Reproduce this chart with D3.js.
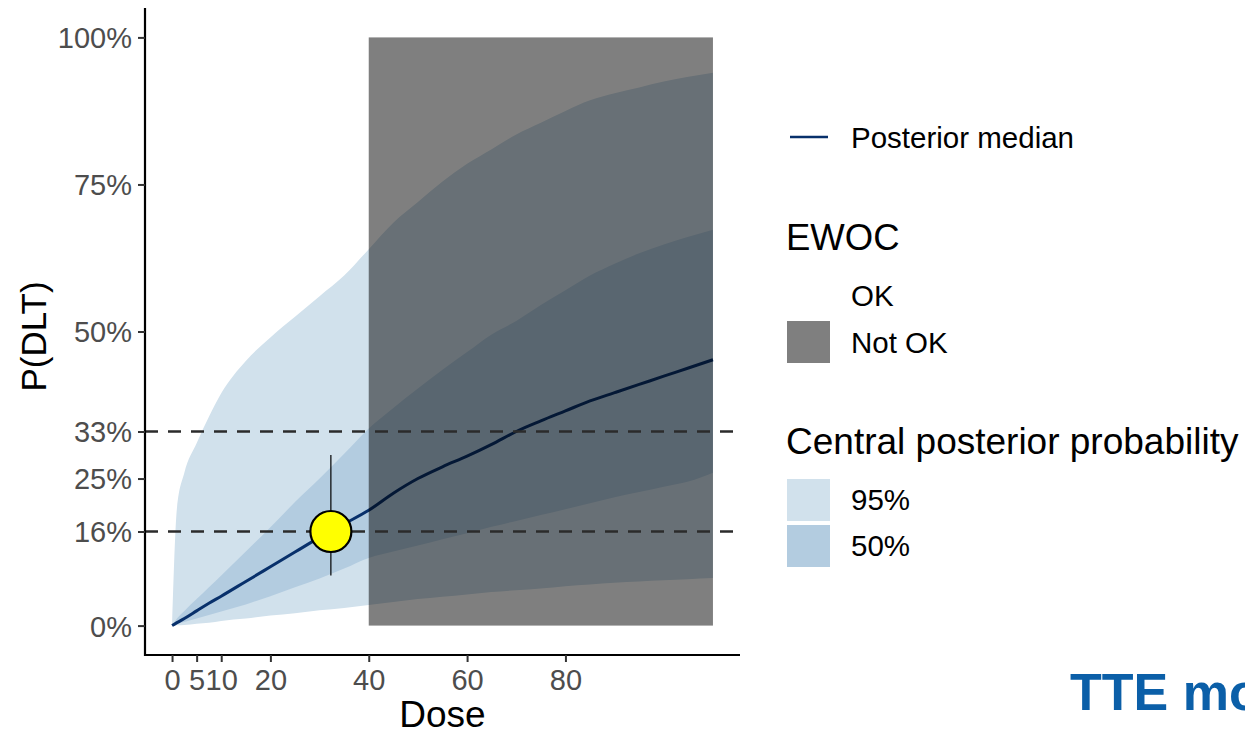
<!DOCTYPE html>
<html>
<head>
<meta charset="utf-8">
<script src="https://cdn.jsdelivr.net/npm/d3@7"></script>
<style>
  body { margin: 0; background: #fff; overflow: hidden; }
  text { font-family: "Liberation Sans", Arial, sans-serif; }
</style>
</head>
<body>
<div id="graph"></div>
<script>
// dose grid and posterior summaries
var doses    = [0, 1, 2.5, 5, 7.5, 10, 15, 20, 25, 30, 35, 40, 45, 50, 55, 60, 65, 70, 75, 80, 85, 90, 95, 100, 105, 110];
var median   = [0, 0.5, 1.2, 2.5, 3.8, 5.0, 7.5, 10, 12.5, 15, 17.3, 19.6, 22.5, 25, 27, 28.8, 30.8, 33, 34.8, 36.5, 38.2, 39.6, 41, 42.4, 43.8, 45.2];
var lower95  = [0, 0.05, 0.1, 0.3, 0.5, 0.8, 1.2, 1.7, 2.1, 2.6, 3.0, 3.5, 4.0, 4.5, 4.9, 5.3, 5.7, 6.0, 6.3, 6.7, 7.0, 7.3, 7.5, 7.7, 7.9, 8.1];
var upper95  = [0, 20, 26, 31, 35.5, 39.5, 45, 49, 52.5, 56, 59.5, 64, 68.5, 72, 75.5, 78.5, 81, 83.5, 85.5, 87.5, 89.3, 90.5, 91.5, 92.5, 93.3, 94];
var lower50  = [0, 0.3, 0.6, 1.2, 1.8, 2.4, 3.6, 5, 6.5, 8, 9.7, 11.5, 12.6, 13.6, 14.7, 15.7, 16.8, 17.8, 18.8, 19.8, 20.8, 21.8, 22.7, 23.6, 24.5, 26];
var upper50  = [0, 1.2, 2.5, 4.5, 6.5, 8.5, 12.6, 16.7, 21, 25, 29.2, 33.5, 37, 40.3, 43.5, 46.5, 49.5, 51.8, 54.5, 57, 59.5, 61.5, 63.3, 64.8, 66.1, 67.3];

var ewocStart = 40, ewocEnd = 110;          // "Not OK" dose range
var refLines = [0.16, 0.33];                 // dashed reference lines
var obsDose = 32.3, obsP = 0.16, obsLo = 0.085, obsHi = 0.29;   // yellow point with its interval

var xTicks = [0, 5, 10, 20, 40, 60, 80];
var yTicks = [0, 0.16, 0.25, 0.33, 0.5, 0.75, 1];

var width = 1245, height = 733;
var margin = {"left": 145, "right": 740, "top": 8, "bottom": 655};

var svg = d3.select("#graph").append("svg")
    .attr("width", width)
    .attr("height", height);

var x = d3.scaleLinear().domain([-5.5, 115.5]).range([margin.left, margin.right]);
var y = d3.scaleLinear().domain([-0.05, 1.05]).range([margin.bottom, margin.top]);

var rows = doses.map(function(d, i) {
  return {dose: d, med: median[i] / 100, lo95: lower95[i] / 100, hi95: upper95[i] / 100,
          lo50: lower50[i] / 100, hi50: upper50[i] / 100};
});

function band(lo, hi) {
  return d3.area()
    .curve(d3.curveMonotoneX)
    .x(function(d) { return x(d.dose); })
    .y0(function(d) { return y(d[lo]); })
    .y1(function(d) { return y(d[hi]); });
}

svg.append("path").datum(rows).attr("d", band("lo95", "hi95")).attr("fill", "#d1e1ec");
svg.append("path").datum(rows).attr("d", band("lo50", "hi50")).attr("fill", "#b3cce0");

svg.append("path").datum(rows)
    .attr("d", d3.line().curve(d3.curveMonotoneX).x(function(d) { return x(d.dose); }).y(function(d) { return y(d.med); }))
    .attr("fill", "none")
    .attr("stroke", "#08306b")
    .attr("stroke-width", 3);

// EWOC not OK region, drawn over the bands
svg.append("rect")
    .attr("x", x(ewocStart))
    .attr("y", y(1))
    .attr("width", x(ewocEnd) - x(ewocStart))
    .attr("height", y(0) - y(1))
    .attr("fill", "#000")
    .attr("fill-opacity", 0.5);

svg.selectAll(".ref")
    .data(refLines)
  .enter().append("line")
    .attr("class", "ref")
    .attr("x1", margin.left).attr("x2", margin.right)
    .attr("y1", function(d) { return y(d); })
    .attr("y2", function(d) { return y(d); })
    .attr("stroke", "#2b2b2b")
    .attr("stroke-width", 2.6)
    .attr("stroke-dasharray", "13,10");

svg.append("line")
    .attr("x1", x(obsDose)).attr("x2", x(obsDose))
    .attr("y1", y(obsLo)).attr("y2", y(obsHi))
    .attr("stroke", "#000")
    .attr("stroke-width", 1.2);

svg.append("circle")
    .attr("cx", x(obsDose))
    .attr("cy", y(obsP))
    .attr("r", 20.5)
    .attr("fill", "#ffff00")
    .attr("stroke", "#000")
    .attr("stroke-width", 2.2);

// axes
var yAxis = svg.append("g")
    .attr("transform", "translate(" + margin.left + ",0)")
    .call(d3.axisLeft(y).tickValues(yTicks).tickFormat(d3.format(".0%")).tickSize(7).tickSizeOuter(0).tickPadding(6));
var xAxis = svg.append("g")
    .attr("transform", "translate(0," + margin.bottom + ")")
    .call(d3.axisBottom(x).tickValues(xTicks).tickSize(7).tickSizeOuter(0).tickPadding(4));

[yAxis, xAxis].forEach(function(a) {
  a.select(".domain").attr("stroke", "#000").attr("stroke-width", 2.2);
  a.selectAll(".tick line").attr("stroke", "#333").attr("stroke-width", 2);
  a.selectAll(".tick text").attr("fill", "#4d4d4d").style("font-size", "29px");
});
yAxis.select(".domain").attr("d", "M0," + margin.top + "V" + (margin.bottom + 1));
xAxis.select(".domain").attr("d", "M" + (margin.left - 1) + ",0H" + margin.right);
yAxis.selectAll(".tick text").attr("dy", "0.36em");
xAxis.selectAll(".tick text").attr("dy", "0.82em");

svg.append("text")
    .attr("x", (margin.left + margin.right) / 2)
    .attr("y", 727)
    .attr("text-anchor", "middle")
    .style("font-size", "37px")
    .text("Dose");

svg.append("text")
    .attr("transform", "translate(46," + ((margin.top + margin.bottom) / 2 + 5) + ") rotate(-90)")
    .attr("text-anchor", "middle")
    .style("font-size", "35px")
    .text("P(DLT)");

// legend
var legend = svg.append("g");
legend.append("line")
    .attr("x1", 790).attr("x2", 828).attr("y1", 137).attr("y2", 137)
    .attr("stroke", "#08306b").attr("stroke-width", 2.5);
legend.append("text").attr("x", 851).attr("y", 148).style("font-size", "29.5px").text("Posterior median");

legend.append("text").attr("x", 786).attr("y", 250).style("font-size", "36.5px").text("EWOC");
legend.append("text").attr("x", 851).attr("y", 306).style("font-size", "29.5px").text("OK");
legend.append("rect").attr("x", 787).attr("y", 321).attr("width", 43).attr("height", 42).attr("fill", "#7f7f7f");
legend.append("text").attr("x", 851).attr("y", 353).style("font-size", "29.5px").text("Not OK");

legend.append("text").attr("x", 786).attr("y", 454).style("font-size", "37px").text("Central posterior probability");
var keys = [{label: "95%", color: "#d1e1ec", y: 479}, {label: "50%", color: "#b3cce0", y: 525}];
keys.forEach(function(k) {
  legend.append("rect").attr("x", 787).attr("y", k.y).attr("width", 43).attr("height", 42).attr("fill", k.color);
  legend.append("text").attr("x", 851).attr("y", k.y + 31).style("font-size", "29.5px").text(k.label);
});

// slide footer text, cut off by the window edge
svg.append("text")
    .attr("x", 1070)
    .attr("y", 710)
    .attr("fill", "#0b5fa8")
    .style("font-size", "52px")
    .style("font-weight", "bold")
    .text("TTE model");
</script>
</body>
</html>
